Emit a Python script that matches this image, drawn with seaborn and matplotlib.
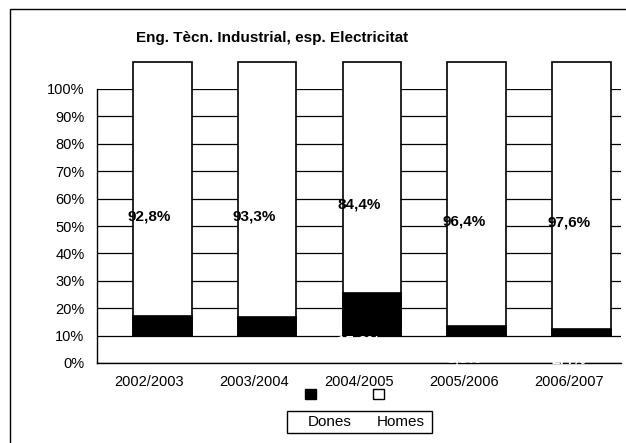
import numpy as np
import pandas as pd
import matplotlib.pyplot as plt
import matplotlib.patches as mpatches
import seaborn as sns

# Data
cursos = ["2002/2003", "2003/2004", "2004/2005", "2005/2006", "2006/2007"]
homes = [92.8, 93.3, 84.4, 96.4, 97.6]
dones = [7.2, 6.7, 15.6, 3.6, 2.4]
homes_labels = ["92,8%", "93,3%", "84,4%", "96,4%", "97,6%"]
dones_labels = ["7,2%", "6,7%", "15,6%", "3,6%", "2,4%"]
yticks = list(range(0, 101, 10))

df = pd.DataFrame({"curs": cursos, "Homes": homes, "Dones": dones})
df["Total"] = df["Homes"] + df["Dones"]

sns.set_theme(style="white")
plt.rcParams["font.family"] = ["Liberation Sans", "DejaVu Sans"]
plt.rcParams["text.color"] = "black"

W, H = 626, 443
fig = plt.figure(figsize=(W / 100, H / 100), dpi=100)
ax = fig.add_axes([97 / W, (H - 363) / H, (621 - 97) / W, (363 - 89) / H])

# bars in the original sit 10 points up and slightly right of the category
base = 10
shift = 0.123
sns.barplot(data=df, x="curs", y="Total", color="white", edgecolor="black",
            linewidth=1.2, width=0.56, saturation=1, errorbar=None, ax=ax, zorder=2)
sns.barplot(data=df, x="curs", y="Dones", color="black", edgecolor="black",
            linewidth=1.2, width=0.56, saturation=1, errorbar=None, ax=ax, zorder=3)
for p in ax.patches:
    p.set_y(base)
    p.set_x(p.get_x() + shift)
    p.set_clip_on(False)

# value labels (placed where the unshifted stack would put them)
for i in range(len(cursos)):
    ax.text(i, dones[i] + homes[i] / 2, homes_labels[i], ha="center", va="center",
            fontsize=11, fontweight="bold", color="black", zorder=6)
    ax.text(i, dones[i] / 2, dones_labels[i], ha="center", va="center",
            fontsize=11, fontweight="bold", color="white", zorder=6, clip_on=False)

ax.set_xlim(-0.5, len(cursos) - 0.5)
ax.set_ylim(0, 100)
ax.set_yticks(yticks)
ax.set_yticklabels([f"{v}%" for v in yticks], fontsize=10.5)
ax.set_xticks(range(len(cursos)))
ax.set_xticklabels(cursos, fontsize=10.5)
ax.set_xticks(np.arange(-0.5, len(cursos), 1), minor=True)
ax.tick_params(axis="x", which="major", length=0, pad=9, colors="black")
ax.tick_params(axis="x", which="minor", length=5, width=1, color="black", direction="out")
ax.tick_params(axis="y", length=5, width=1, color="black", direction="out", pad=4, colors="black")
ax.set_xlabel("")
ax.set_ylabel("")
ax.yaxis.grid(True, color="black", linewidth=0.9)
ax.set_axisbelow(True)
for s in ["top", "right"]:
    ax.spines[s].set_visible(False)
for s in ["left", "bottom"]:
    ax.spines[s].set_color("black")
    ax.spines[s].set_linewidth(1)

fig.text(272 / W, (H - 38) / H, "Eng. Tècn. Industrial, esp. Electricitat",
         ha="center", va="center", fontsize=11, fontweight="bold", color="black")

# outer frame (cut off at right/bottom in the original)
fig.patches.append(mpatches.Rectangle((10 / W, -0.1), 1.2, (H - 9) / H + 0.1,
                                      transform=fig.transFigure, fill=False,
                                      edgecolor="black", linewidth=1))

# legend: box with names, swatches drawn above it
fig.patches.append(mpatches.Rectangle((287 / W, (H - 433) / H), 145 / W, 22 / H,
                                      transform=fig.transFigure, facecolor="white",
                                      edgecolor="black", linewidth=1))
fig.text(329.5 / W, (H - 422) / H, "Dones", ha="center", va="center", fontsize=11, color="black")
fig.text(400.5 / W, (H - 422) / H, "Homes", ha="center", va="center", fontsize=11, color="black")
fig.patches.append(mpatches.Rectangle((305 / W, (H - 399) / H), 11 / W, 10 / H,
                                      transform=fig.transFigure, facecolor="black",
                                      edgecolor="black", linewidth=1))
fig.patches.append(mpatches.Rectangle((373 / W, (H - 399) / H), 11 / W, 10 / H,
                                      transform=fig.transFigure, facecolor="white",
                                      edgecolor="black", linewidth=1))

fig.savefig("out.png", dpi=100, facecolor="white")
